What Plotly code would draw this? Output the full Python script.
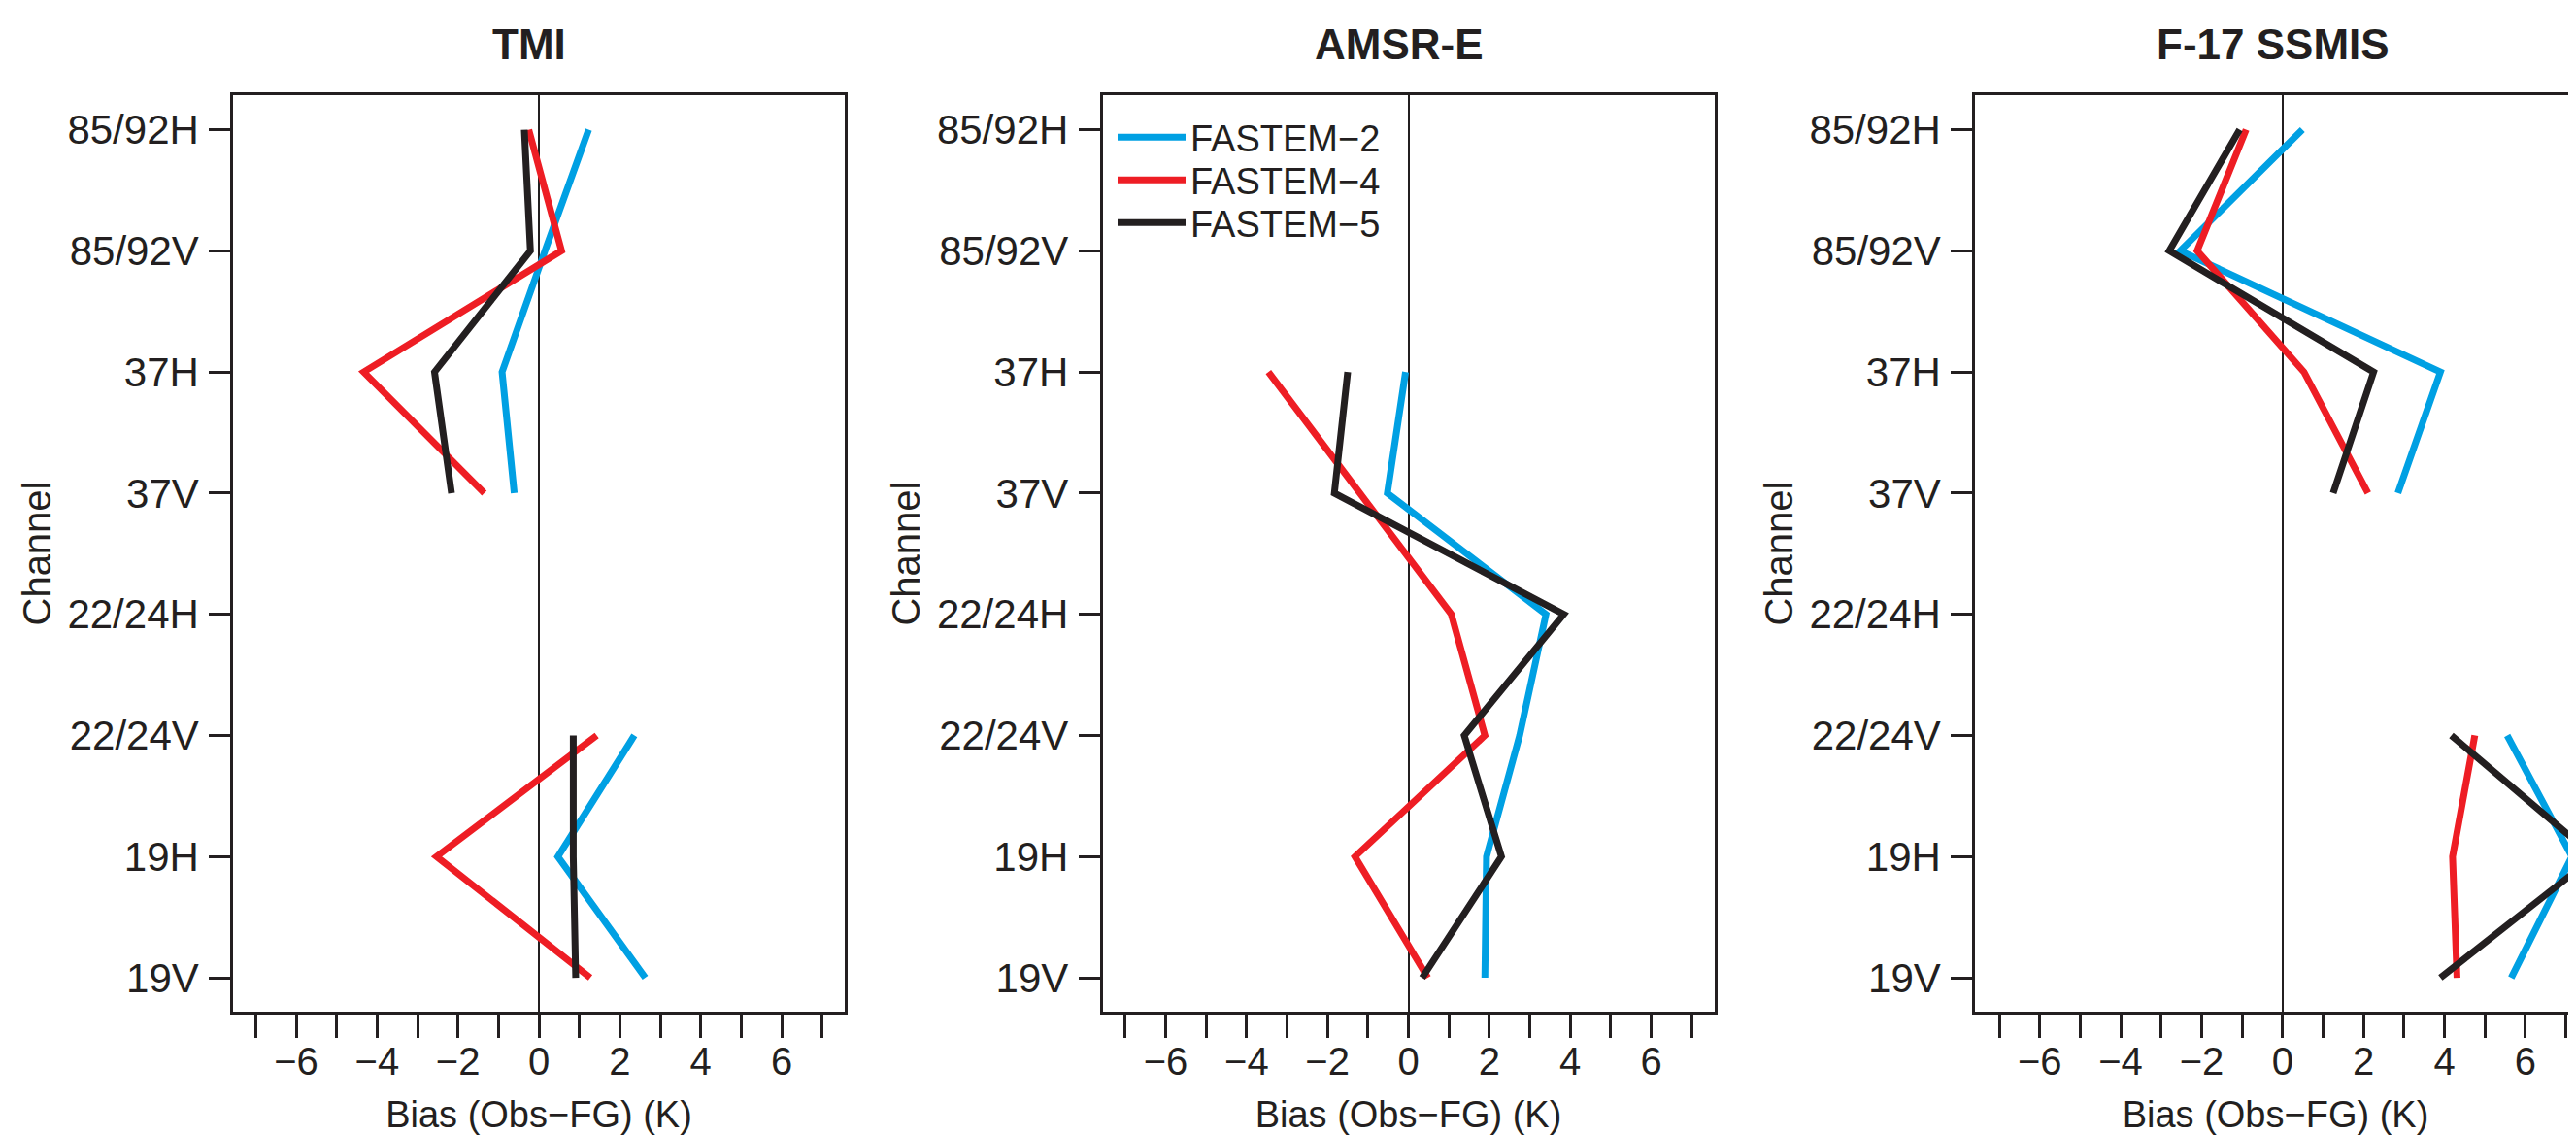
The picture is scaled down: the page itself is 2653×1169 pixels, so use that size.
import plotly.graph_objects as go

# ---------------- data (bottom -> top) ----------------
channels = ["19V", "19H", "22/24V", "22/24H", "37V", "37H", "85/92V", "85/92H"]
panel_titles = ["TMI", "AMSR-E", "F-17 SSMIS"]
series_names = ["FASTEM\u22122", "FASTEM\u22124", "FASTEM\u22125"]

tmi_f2 = [2.63, 0.47, 2.36, None, -0.61, -0.91, 0.15, 1.23]
tmi_f4 = [1.27, -2.53, 1.43, None, -1.35, -4.33, 0.56, -0.25]
tmi_f5 = [0.91, 0.85, 0.85, None, -2.16, -2.58, -0.21, -0.36]

amsre_f2 = [1.89, 1.93, 2.75, 3.40, -0.52, -0.07, None, None]
amsre_f4 = [0.48, -1.32, 1.89, 1.06, -1.20, -3.46, None, None]
amsre_f5 = [0.34, 2.30, 1.38, 3.84, -1.83, -1.50, None, None]

ssmis_f2 = [5.65, 7.15, 5.55, None, 2.85, 3.90, -2.53, 0.49]
ssmis_f4 = [4.31, 4.20, 4.75, None, 2.11, 0.53, -2.11, -0.90]
ssmis_f5 = [3.90, 7.70, 4.17, None, 1.25, 2.25, -2.80, -1.06]

x_ticks = [-6, -4, -2, 0, 2, 4, 6]

# ---------------- styling ----------------
# the page body adds an 8px margin, so the figure is laid out 8px up/left
W, H = 2645, 1161
ML, MT, MB, MR = 232, 90, 127, 0
PW = W - ML - MR
PH = H - MT - MB
FONT = "Liberation Sans, Arial, Helvetica, sans-serif"
INK = "#231F20"
colors = ["#00A0E3", "#EE1D24", "#231F20"]
panel_px = [(232, 862), (1127.5, 1757.5), (2026, 2645)]
x_ranges = [[-7.56, 7.56], [-7.56, 7.56], [-7.60, 7.25]]
y_range = [-0.28, 7.285]
legend_names = ["legend", "legend2", "legend3"]
legend_row_px = [133.6, 177.6, 221.6]

panels = [
    [tmi_f2, tmi_f4, tmi_f5],
    [amsre_f2, amsre_f4, amsre_f5],
    [ssmis_f2, ssmis_f4, ssmis_f5],
]

fig = go.Figure()
ypos = list(range(len(channels)))

for p, series in enumerate(panels):
    xa = "x" if p == 0 else f"x{p+1}"
    ya = "y" if p == 0 else f"y{p+1}"
    for s, vals in enumerate(series):
        fig.add_trace(go.Scatter(
            x=vals, y=ypos, mode="lines", name=series_names[s],
            line=dict(color=colors[s], width=7),
            connectgaps=False, showlegend=(p == 1), legend=legend_names[s],
            xaxis=xa, yaxis=ya,
        ))

layout = dict(
    width=W, height=H,
    margin=dict(l=ML, r=MR, t=MT, b=MB, pad=0),
    paper_bgcolor="white", plot_bgcolor="white",
    font=dict(family=FONT, color=INK),
    showlegend=True,
)
for s, lname in enumerate(legend_names):
    layout[lname] = dict(
        x=(1138 - ML) / PW, y=1 - (legend_row_px[s] - MT) / PH,
        xanchor="left", yanchor="middle",
        bgcolor="rgba(0,0,0,0)", font=dict(size=38, family=FONT, color=INK),
        itemwidth=70,
    )

annotations = []
for p in range(3):
    a, b = panel_px[p]
    xkey = "xaxis" if p == 0 else f"xaxis{p+1}"
    ykey = "yaxis" if p == 0 else f"yaxis{p+1}"
    layout[xkey] = dict(
        domain=[(a - ML) / PW, min((b - ML) / PW, 1.0)],
        range=x_ranges[p],
        anchor="y" if p == 0 else f"y{p+1}",
        tickmode="array", tickvals=x_ticks,
        ticks="outside", ticklen=24, tickwidth=2.5, tickcolor=INK,
        minor=dict(dtick=1, tick0=0, ticks="outside", ticklen=24, tickwidth=2.5,
                   tickcolor=INK, showgrid=False),
        showline=True, linecolor=INK, linewidth=3, mirror=True,
        zeroline=True, zerolinecolor=INK, zerolinewidth=1.8,
        showgrid=False,
        tickfont=dict(size=40, family=FONT, color=INK),
        ticklabelstandoff=-10,
        title=dict(text="Bias (Obs\u2212FG) (K)", font=dict(size=38, family=FONT, color=INK),
                   standoff=26),
    )
    layout[ykey] = dict(
        domain=[0, 1], range=y_range,
        anchor="x" if p == 0 else f"x{p+1}",
        tickmode="array", tickvals=ypos, ticktext=channels,
        ticks="outside", ticklen=22, tickwidth=2.5, tickcolor=INK,
        showline=True, linecolor=INK, linewidth=2.5, mirror=(p < 2),
        zeroline=False, showgrid=False,
        tickfont=dict(size=42, family=FONT, color=INK),
        ticklabelstandoff=2,
        title=dict(text="Channel", font=dict(size=40, family=FONT, color=INK),
                   standoff=5),
    )
    annotations.append(dict(
        text=f"<b>{panel_titles[p]}</b>", xref="x" if p == 0 else f"x{p+1}", x=0,
        yref="paper", y=1, yshift=53, xshift=-10, xanchor="center", yanchor="middle",
        showarrow=False, font=dict(size=44, family=FONT, color=INK),
    ))

layout["annotations"] = annotations
fig.update_layout(**layout)
fig.write_html("out.html")
